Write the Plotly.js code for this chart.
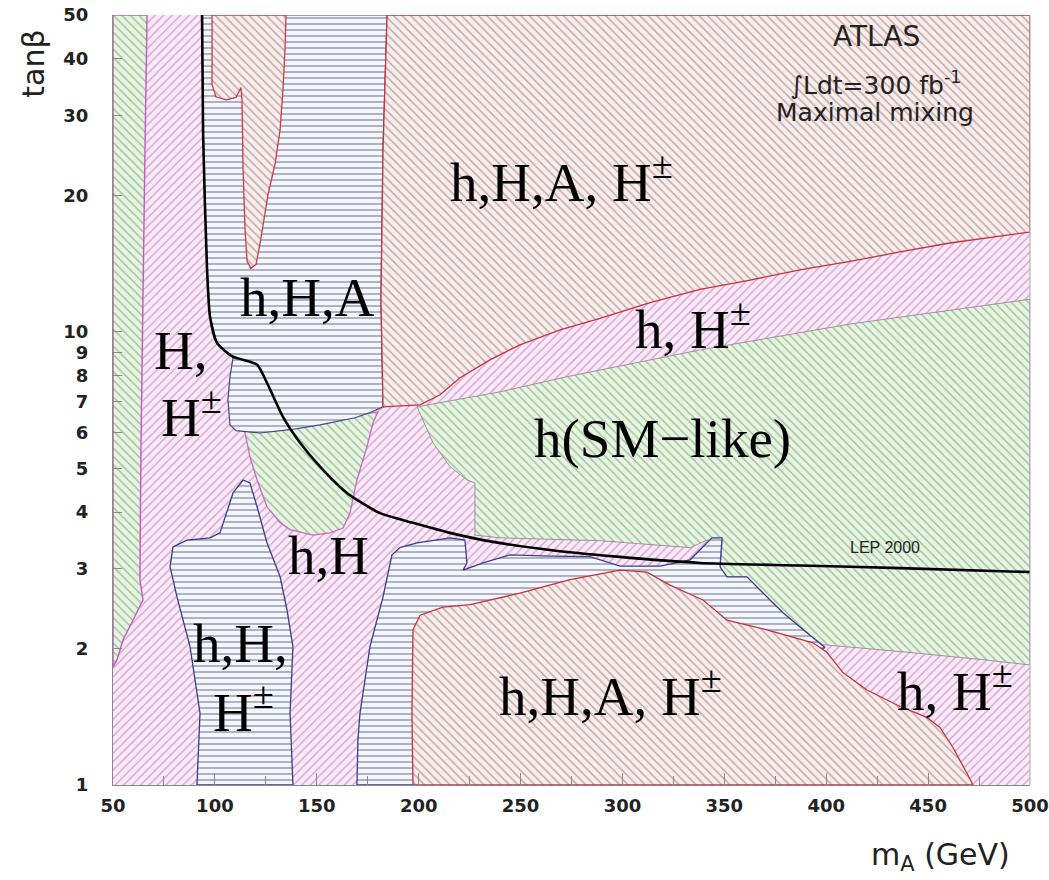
<!DOCTYPE html>
<html><head><meta charset="utf-8">
<script src="https://cdn.plot.ly/plotly-3.0.1.min.js"></script>
<style>html,body{margin:0;padding:0;background:#fff}</style>
</head><body>
<div id="chart" style="width:1049px;height:880px"></div>
<script>
// ---- axis ticks ----
const xTicks = [50,100,150,200,250,300,350,400,450,500];
const yTicks = [1,2,3,4,5,6,7,8,9,10,20,30,40,50];
const yTickText = yTicks.map(String);

// ---- regions (mA in GeV, tan beta) ----
const baseMA = [50,500,500,50];
const baseTB = [1,1,50,50];

const greenStripMA = [50,66.7,65.7,64.7,63.7,63.2,64.7,59.8,54.9,52.0,50];
const greenStripTB = [50,50,25.2,11.8,5.49,2.84,2.56,2.31,2.09,1.89,1.82];

const greenBigMA = [199.2,239.9,272.8,338.1,411.7,500,500,476.9,436.2,398.4,392.0,378.8,372.4,361.1,351.3,347.9,348.9,341.5,333.2,289.0,239.9,227.6,227.6,223.7,215.4,207.0];
const greenBigTB = [6.83,7.37,7.96,9.12,10.4,11.8,1.84,1.89,1.97,2.04,2.14,2.40,2.56,2.88,2.88,3.03,3.47,3.47,3.34,3.46,3.51,3.56,4.64,4.71,5.04,5.69];

const greenPocketMA = [113.8,114.8,117.2,120.7,125.6,132.0,136.9,148.1,156.5,162.9,166.3,169.7,174.6,177.6,180.0,141.8];
const greenPocketTB = [6.14,5.98,5.30,4.71,4.11,3.79,3.66,3.56,3.60,3.69,3.98,4.71,5.57,6.30,6.66,6.23];

const blueUpperMA = [93.7,94.2,96.1,97.6,101.0,108.9,107.4,106.4,107.4,110.4,122.1,136.9,151.6,168.8,177.1,182.5,181.5,182.5,184.5];
const blueUpperTB = [50,27.5,13.9,10.8,9.45,8.76,7.96,7.08,6.23,6.05,5.98,6.08,6.23,6.46,6.66,6.83,11.8,25.2,50];

const redUpperMA = [184.5,500,500,460.7,436.2,411.7,387.1,362.7,338.1,313.6,289.0,269.4,249.7,235.0,220.3,210.5,200.7,182.5,181.5,182.5];
const redUpperTB = [50,50,16.6,15.7,15.0,14.3,13.7,13.0,12.4,11.6,10.7,10.1,9.36,8.67,7.92,7.26,6.90,6.83,11.8,25.2];

const redTongueMA = [98.6,98.6,100.5,105.5,110.4,112.8,113.3,113.8,114.8,115.8,117.7,120.2,122.1,123.6,126.1,129.5,132.0,133.4,134.4,134.9];
const redTongueTB = [50,35.1,33.0,32.5,32.9,34.6,32.5,23.1,16.8,14.3,13.8,14.1,15.6,17.2,20.1,23.4,27.9,34.2,41.9,50];

const blueLowerMA = [169.7,170.2,171.2,176.1,182.5,185.0,186.9,190.8,199.2,215.4,222.7,223.7,221.8,231.6,244.8,264.4,284.1,298.8,318.4,333.2,340.5,343.9,348.9,347.9,351.3,361.1,372.4,378.8,392.0,399.4,197.2];
const blueLowerTB = [1,1.26,1.44,2.02,2.60,2.91,3.22,3.34,3.42,3.51,3.47,3.09,2.98,3.09,3.22,3.20,3.19,3.04,3.04,3.14,3.39,3.51,3.51,3.03,2.88,2.88,2.56,2.40,2.14,2.01,1];

const redLowerMA = [197.2,196.7,197.2,200.7,211.9,225.2,249.7,274.3,298.8,312.0,323.3,339.5,351.3,370.9,393.5,400.4,408.2,420.0,436.2,449.4,455.8,462.2,469.1,472.0];
const redLowerTB = [1,1.44,2.20,2.37,2.47,2.50,2.65,2.84,2.98,2.95,2.76,2.56,2.31,2.20,2.06,1.96,1.77,1.62,1.49,1.41,1.34,1.21,1.06,1];

const blueLeftMA = [91.2,92.7,87.8,81.4,78.0,79.4,86.3,97.6,102.5,108.9,113.8,117.2,120.7,125.6,132.0,135.4,138.3,136.9,138.3];
const blueLeftTB = [1,1.44,2.02,2.60,3.03,3.35,3.47,3.51,3.60,4.41,4.71,4.64,4.11,3.42,2.88,2.43,2.02,1.44,1];

const lepMA = [93.7,94.2,96.1,97.6,101.0,108.9,120.7,125.6,133.4,141.8,151.6,164.8,181.0,197.2,215.4,231.6,264.4,297.3,338.1,387.1,436.2,500];
const lepTB = [50,27.5,13.9,10.8,9.45,8.81,8.46,7.71,6.49,5.69,5.04,4.41,3.98,3.79,3.60,3.47,3.30,3.19,3.09,3.05,3.01,2.95];

// ---- styles ----
const PINK  = {bg:'#fbe8f8', fg:'#cfa2cb', shape:'/',  sol:0.22};
const RED   = {bg:'#faeceb', fg:'#b3a2a0', shape:'\\', sol:0.22};
const BLUE  = {bg:'#f3f6fc', fg:'#6d7386', shape:'-',  sol:0.17};
const GREEN = {bg:'#e5f5df', fg:'#9db99a', shape:'\\', sol:0.22};

function region(x, y, st, lineColor, lineWidth) {
  return {
    type:'scatter', mode:'lines', x:x.concat([x[0]]), y:y.concat([y[0]]),
    fill:'toself', fillcolor:st.bg,
    fillpattern:{shape:st.shape, bgcolor:st.bg, fgcolor:st.fg, size:6, solidity:st.sol},
    line:{color:lineColor, width:lineWidth}, hoverinfo:'skip', showlegend:false
  };
}

const traces = [
  region(baseMA, baseTB, PINK, 'rgba(0,0,0,0)', 0),
  region(greenStripMA, greenStripTB, GREEN, '#c458c4', 1.4),
  region(greenBigMA, greenBigTB, GREEN, '#9a8598', 0.9),
  region(greenPocketMA, greenPocketTB, GREEN, '#c868c8', 1.3),
  region(blueUpperMA, blueUpperTB, BLUE, '#44448c', 1.2),
  region(redUpperMA, redUpperTB, RED, '#c8303e', 1.3),
  region(redTongueMA, redTongueTB, RED, '#d03848', 1.3),
  region(blueLowerMA, blueLowerTB, BLUE, '#3a3a92', 1.3),
  region(redLowerMA, redLowerTB, RED, '#c8303e', 1.3),
  region(blueLeftMA, blueLeftTB, BLUE, '#3a3a92', 1.3),
  {type:'scatter', mode:'lines', x:lepMA, y:lepTB, line:{color:'#000', width:2.6, shape:'spline', smoothing:0.6},
   hoverinfo:'skip', showlegend:false}
];

const serif = {family:'Liberation Serif, Times New Roman, serif', size:55, color:'#000'};
const sans = {family:'DejaVu Sans, sans-serif', color:'#222'};
function lab(text, x, y, font) {
  return {text:text, x:x, y:y, xref:'paper', yref:'paper', showarrow:false,
          xanchor:'center', yanchor:'middle', font:font || serif};
}

const annotations = [
  lab('h,H,A, H<sup>±</sup>', 0.4886, 0.7883),
  lab('h,H,A', 0.2116, 0.6325),
  lab('H,', 0.0731, 0.5649),
  lab('H<sup>±</sup>', 0.0861, 0.4831),
  lab('h, H<sup>±</sup>', 0.6325, 0.5974),
  lab('h(SM−like)', 0.5992, 0.4506),
  lab('h,H', 0.2345, 0.2987),
  lab('h,H,', 0.1385, 0.1844),
  lab('H<sup>±</sup>', 0.1418, 0.1000),
  lab('h,H,A, H<sup>±</sup>', 0.542, 0.1195),
  lab('h, H<sup>±</sup>', 0.9182, 0.126),
  lab('LEP 2000', 0.8419, 0.3078, {family:'Liberation Sans, sans-serif', size:16, color:'#222'}),
  lab('ATLAS', 0.8331, 0.9727, Object.assign({size:28}, sans)),
  lab('∫Ldt=300 fb<sup>-1</sup>', 0.831, 0.9104, Object.assign({size:25}, sans)),
  lab('Maximal mixing', 0.831, 0.874, Object.assign({size:25}, sans)),
  {text:'tanβ', x:-0.087, y:0.937, xref:'paper', yref:'paper', showarrow:false, textangle:-90,
   xanchor:'center', yanchor:'middle', font:{family:'DejaVu Sans, sans-serif', size:30, color:'#222'}},
  {text:'m<sub>A</sub> (GeV)', x:0.9019, y:-0.0935, xref:'paper', yref:'paper', showarrow:false,
   xanchor:'center', yanchor:'middle', font:{family:'DejaVu Sans, sans-serif', size:30, color:'#222'}}
];

const layout = {
  width:1049, height:880,
  margin:{l:113, r:19, t:15, b:95},
  paper_bgcolor:'#fff', plot_bgcolor:'#fff',
  showlegend:false,
  xaxis:{range:[50,500], tickvals:xTicks, ticks:'inside', ticklen:12, tickcolor:'#888',
         showline:true, linecolor:'#888', linewidth:1, showgrid:false, zeroline:false,
         ticklabelstandoff:4,
         tickfont:{family:'DejaVu Sans, sans-serif', size:18, color:'#222', weight:'bold'},
         minor:{dtick:25, tick0:50, ticks:'inside', ticklen:9, tickcolor:'#888'}},
  yaxis:{type:'log', range:[0, Math.log10(50)], tickvals:yTicks, ticktext:yTickText,
         ticks:'inside', ticklen:9, tickcolor:'#888',
         showline:true, linecolor:'#888', linewidth:1, showgrid:false, zeroline:false,
         ticklabelstandoff:20,
         tickfont:{family:'DejaVu Sans, sans-serif', size:18, color:'#222', weight:'bold'}},
  shapes:[{type:'line', xref:'paper', yref:'paper', x0:1, x1:1, y0:0, y1:1,
           line:{color:'#aaa', width:1}}],
  annotations:annotations
};

Plotly.newPlot('chart', traces, layout, {staticPlot:true, displayModeBar:false});
</script>
</body></html>
